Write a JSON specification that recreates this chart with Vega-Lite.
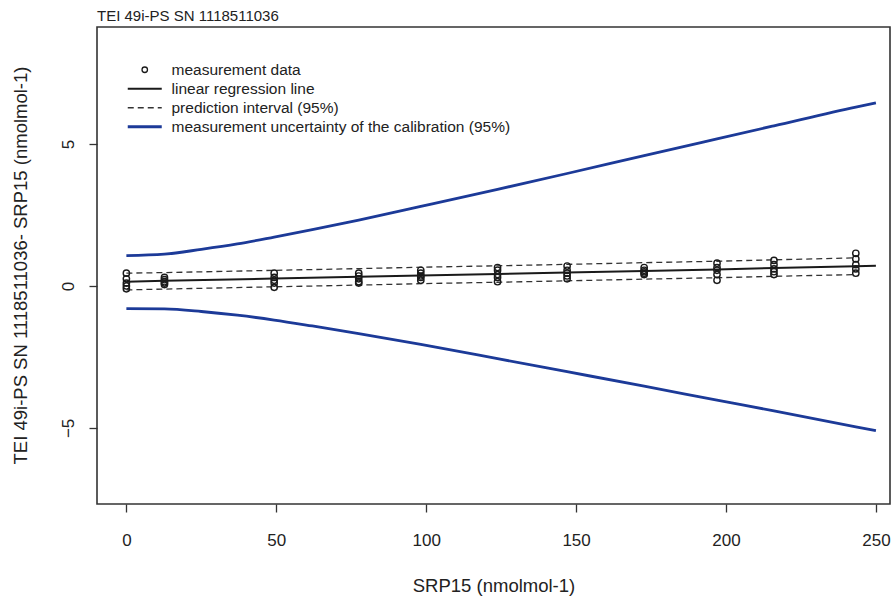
{
  "$schema": "https://vega.github.io/schema/vega-lite/v6.json",
  "width": 793,
  "height": 477,
  "autosize": {"type": "none"},
  "padding": {"left": 97, "top": 27, "right": 6, "bottom": 99},
  "background": "white",
  "title": {"text": "TEI 49i-PS SN 1118511036", "anchor": "start", "frame": "group", "orient": "top", "baseline": "middle", "offset": 0, "dy": 4, "fontSize": 15, "fontWeight": "normal", "font": "Liberation Sans", "color": "#222"},
  "datasets": {
    "d": [
      {"x": 0, "y": 0.45, "series": "measurement data", "side": "pt"},
      {"x": 0, "y": 0.25, "series": "measurement data", "side": "pt"},
      {"x": 0, "y": 0.1, "series": "measurement data", "side": "pt"},
      {"x": 0, "y": 0.0, "series": "measurement data", "side": "pt"},
      {"x": 0, "y": -0.1, "series": "measurement data", "side": "pt"},
      {"x": 12.7, "y": 0.3, "series": "measurement data", "side": "pt"},
      {"x": 12.7, "y": 0.22, "series": "measurement data", "side": "pt"},
      {"x": 12.7, "y": 0.15, "series": "measurement data", "side": "pt"},
      {"x": 12.7, "y": 0.1, "series": "measurement data", "side": "pt"},
      {"x": 12.7, "y": 0.05, "series": "measurement data", "side": "pt"},
      {"x": 49.3, "y": 0.45, "series": "measurement data", "side": "pt"},
      {"x": 49.3, "y": 0.3, "series": "measurement data", "side": "pt"},
      {"x": 49.3, "y": 0.2, "series": "measurement data", "side": "pt"},
      {"x": 49.3, "y": 0.1, "series": "measurement data", "side": "pt"},
      {"x": 49.3, "y": -0.05, "series": "measurement data", "side": "pt"},
      {"x": 77.5, "y": 0.45, "series": "measurement data", "side": "pt"},
      {"x": 77.5, "y": 0.35, "series": "measurement data", "side": "pt"},
      {"x": 77.5, "y": 0.25, "series": "measurement data", "side": "pt"},
      {"x": 77.5, "y": 0.15, "series": "measurement data", "side": "pt"},
      {"x": 77.5, "y": 0.1, "series": "measurement data", "side": "pt"},
      {"x": 98.2, "y": 0.55, "series": "measurement data", "side": "pt"},
      {"x": 98.2, "y": 0.45, "series": "measurement data", "side": "pt"},
      {"x": 98.2, "y": 0.35, "series": "measurement data", "side": "pt"},
      {"x": 98.2, "y": 0.3, "series": "measurement data", "side": "pt"},
      {"x": 98.2, "y": 0.2, "series": "measurement data", "side": "pt"},
      {"x": 123.8, "y": 0.65, "series": "measurement data", "side": "pt"},
      {"x": 123.8, "y": 0.55, "series": "measurement data", "side": "pt"},
      {"x": 123.8, "y": 0.4, "series": "measurement data", "side": "pt"},
      {"x": 123.8, "y": 0.3, "series": "measurement data", "side": "pt"},
      {"x": 123.8, "y": 0.15, "series": "measurement data", "side": "pt"},
      {"x": 147, "y": 0.7, "series": "measurement data", "side": "pt"},
      {"x": 147, "y": 0.55, "series": "measurement data", "side": "pt"},
      {"x": 147, "y": 0.45, "series": "measurement data", "side": "pt"},
      {"x": 147, "y": 0.35, "series": "measurement data", "side": "pt"},
      {"x": 147, "y": 0.25, "series": "measurement data", "side": "pt"},
      {"x": 172.7, "y": 0.65, "series": "measurement data", "side": "pt"},
      {"x": 172.7, "y": 0.55, "series": "measurement data", "side": "pt"},
      {"x": 172.7, "y": 0.5, "series": "measurement data", "side": "pt"},
      {"x": 172.7, "y": 0.45, "series": "measurement data", "side": "pt"},
      {"x": 172.7, "y": 0.4, "series": "measurement data", "side": "pt"},
      {"x": 197, "y": 0.8, "series": "measurement data", "side": "pt"},
      {"x": 197, "y": 0.65, "series": "measurement data", "side": "pt"},
      {"x": 197, "y": 0.55, "series": "measurement data", "side": "pt"},
      {"x": 197, "y": 0.4, "series": "measurement data", "side": "pt"},
      {"x": 197, "y": 0.2, "series": "measurement data", "side": "pt"},
      {"x": 216, "y": 0.9, "series": "measurement data", "side": "pt"},
      {"x": 216, "y": 0.75, "series": "measurement data", "side": "pt"},
      {"x": 216, "y": 0.6, "series": "measurement data", "side": "pt"},
      {"x": 216, "y": 0.5, "series": "measurement data", "side": "pt"},
      {"x": 216, "y": 0.4, "series": "measurement data", "side": "pt"},
      {"x": 243.3, "y": 1.15, "series": "measurement data", "side": "pt"},
      {"x": 243.3, "y": 0.95, "series": "measurement data", "side": "pt"},
      {"x": 243.3, "y": 0.75, "series": "measurement data", "side": "pt"},
      {"x": 243.3, "y": 0.6, "series": "measurement data", "side": "pt"},
      {"x": 243.3, "y": 0.45, "series": "measurement data", "side": "pt"},

      {"x": 0, "y": 0.15, "series": "linear regression line", "side": "mid"},
      {"x": 12.7, "y": 0.18, "series": "linear regression line", "side": "mid"},
      {"x": 49.3, "y": 0.26, "series": "linear regression line", "side": "mid"},
      {"x": 77.5, "y": 0.32, "series": "linear regression line", "side": "mid"},
      {"x": 98.2, "y": 0.37, "series": "linear regression line", "side": "mid"},
      {"x": 123.8, "y": 0.42, "series": "linear regression line", "side": "mid"},
      {"x": 147, "y": 0.47, "series": "linear regression line", "side": "mid"},
      {"x": 172.7, "y": 0.53, "series": "linear regression line", "side": "mid"},
      {"x": 197, "y": 0.58, "series": "linear regression line", "side": "mid"},
      {"x": 216, "y": 0.63, "series": "linear regression line", "side": "mid"},
      {"x": 243.3, "y": 0.69, "series": "linear regression line", "side": "mid"},
      {"x": 250, "y": 0.71, "series": "linear regression line", "side": "mid"},

      {"x": 0, "y": 0.45, "series": "prediction interval (95%)", "side": "upper"},
      {"x": 12.7, "y": 0.47, "series": "prediction interval (95%)", "side": "upper"},
      {"x": 49.3, "y": 0.55, "series": "prediction interval (95%)", "side": "upper"},
      {"x": 77.5, "y": 0.61, "series": "prediction interval (95%)", "side": "upper"},
      {"x": 98.2, "y": 0.66, "series": "prediction interval (95%)", "side": "upper"},
      {"x": 123.8, "y": 0.71, "series": "prediction interval (95%)", "side": "upper"},
      {"x": 147, "y": 0.76, "series": "prediction interval (95%)", "side": "upper"},
      {"x": 172.7, "y": 0.82, "series": "prediction interval (95%)", "side": "upper"},
      {"x": 197, "y": 0.87, "series": "prediction interval (95%)", "side": "upper"},
      {"x": 216, "y": 0.92, "series": "prediction interval (95%)", "side": "upper"},
      {"x": 243.3, "y": 0.99, "series": "prediction interval (95%)", "side": "upper"},
      {"x": 0, "y": -0.14, "series": "prediction interval (95%)", "side": "lower"},
      {"x": 12.7, "y": -0.11, "series": "prediction interval (95%)", "side": "lower"},
      {"x": 49.3, "y": -0.03, "series": "prediction interval (95%)", "side": "lower"},
      {"x": 77.5, "y": 0.03, "series": "prediction interval (95%)", "side": "lower"},
      {"x": 98.2, "y": 0.08, "series": "prediction interval (95%)", "side": "lower"},
      {"x": 123.8, "y": 0.13, "series": "prediction interval (95%)", "side": "lower"},
      {"x": 147, "y": 0.18, "series": "prediction interval (95%)", "side": "lower"},
      {"x": 172.7, "y": 0.24, "series": "prediction interval (95%)", "side": "lower"},
      {"x": 197, "y": 0.29, "series": "prediction interval (95%)", "side": "lower"},
      {"x": 216, "y": 0.34, "series": "prediction interval (95%)", "side": "lower"},
      {"x": 243.3, "y": 0.4, "series": "prediction interval (95%)", "side": "lower"},

      {"x": 0, "y": 1.07, "series": "measurement uncertainty of the calibration (95%)", "side": "upper"},
      {"x": 12.7, "y": 1.12, "series": "measurement uncertainty of the calibration (95%)", "side": "upper"},
      {"x": 25, "y": 1.29, "series": "measurement uncertainty of the calibration (95%)", "side": "upper"},
      {"x": 37, "y": 1.48, "series": "measurement uncertainty of the calibration (95%)", "side": "upper"},
      {"x": 49.3, "y": 1.72, "series": "measurement uncertainty of the calibration (95%)", "side": "upper"},
      {"x": 62, "y": 1.98, "series": "measurement uncertainty of the calibration (95%)", "side": "upper"},
      {"x": 77.5, "y": 2.32, "series": "measurement uncertainty of the calibration (95%)", "side": "upper"},
      {"x": 98.2, "y": 2.8, "series": "measurement uncertainty of the calibration (95%)", "side": "upper"},
      {"x": 123.8, "y": 3.4, "series": "measurement uncertainty of the calibration (95%)", "side": "upper"},
      {"x": 147, "y": 3.96, "series": "measurement uncertainty of the calibration (95%)", "side": "upper"},
      {"x": 172.7, "y": 4.59, "series": "measurement uncertainty of the calibration (95%)", "side": "upper"},
      {"x": 197, "y": 5.18, "series": "measurement uncertainty of the calibration (95%)", "side": "upper"},
      {"x": 216, "y": 5.64, "series": "measurement uncertainty of the calibration (95%)", "side": "upper"},
      {"x": 243.3, "y": 6.3, "series": "measurement uncertainty of the calibration (95%)", "side": "upper"},
      {"x": 250, "y": 6.45, "series": "measurement uncertainty of the calibration (95%)", "side": "upper"},
      {"x": 0, "y": -0.8, "series": "measurement uncertainty of the calibration (95%)", "side": "lower"},
      {"x": 12.7, "y": -0.81, "series": "measurement uncertainty of the calibration (95%)", "side": "lower"},
      {"x": 25, "y": -0.9, "series": "measurement uncertainty of the calibration (95%)", "side": "lower"},
      {"x": 37, "y": -1.03, "series": "measurement uncertainty of the calibration (95%)", "side": "lower"},
      {"x": 49.3, "y": -1.2, "series": "measurement uncertainty of the calibration (95%)", "side": "lower"},
      {"x": 62, "y": -1.41, "series": "measurement uncertainty of the calibration (95%)", "side": "lower"},
      {"x": 77.5, "y": -1.68, "series": "measurement uncertainty of the calibration (95%)", "side": "lower"},
      {"x": 98.2, "y": -2.06, "series": "measurement uncertainty of the calibration (95%)", "side": "lower"},
      {"x": 123.8, "y": -2.56, "series": "measurement uncertainty of the calibration (95%)", "side": "lower"},
      {"x": 147, "y": -3.02, "series": "measurement uncertainty of the calibration (95%)", "side": "lower"},
      {"x": 172.7, "y": -3.53, "series": "measurement uncertainty of the calibration (95%)", "side": "lower"},
      {"x": 197, "y": -4.02, "series": "measurement uncertainty of the calibration (95%)", "side": "lower"},
      {"x": 216, "y": -4.4, "series": "measurement uncertainty of the calibration (95%)", "side": "lower"},
      {"x": 243.3, "y": -4.96, "series": "measurement uncertainty of the calibration (95%)", "side": "lower"},
      {"x": 250, "y": -5.1, "series": "measurement uncertainty of the calibration (95%)", "side": "lower"}
    ]
  },
  "data": {"name": "d"},
  "encoding": {
    "x": {"field": "x", "type": "quantitative",
      "scale": {"domain": [-9.8, 254.7], "nice": false, "zero": false},
      "axis": {"values": [0, 50, 100, 150, 200, 250], "title": "SRP15 (nmolmol-1)", "titleY": 81, "titleBaseline": "middle"}},
    "y": {"field": "y", "type": "quantitative",
      "scale": {"domain": [-7.68, 9.12], "nice": false, "zero": false},
      "axis": {"values": [-5, 0, 5], "title": "TEI 49i-PS SN 1118511036- SRP15 (nmolmol-1)", "labelAngle": 270, "labelAlign": "center", "labelBaseline": "bottom", "titleX": -77, "titleY": 238, "titleAngle": 270, "titleBaseline": "middle", "titleAlign": "center"}},
    "color": {"field": "series", "type": "nominal",
      "scale": {"domain": ["measurement data", "linear regression line", "prediction interval (95%)", "measurement uncertainty of the calibration (95%)"],
                "range": ["#1a1a1a", "#1a1a1a", "#333333", "#1c3a98"]},
      "legend": {
        "title": null, "orient": "none", "legendX": 40, "legendY": 35,
        "symbolSize": 256, "rowPadding": 2, "labelOffset": 19, "labelLimit": 600,
        "labelFontSize": 15.5, "labelFont": "Liberation Sans", "labelColor": "#222",
        "encode": {"symbols": {"update": {
          "shape": {"signal": "datum.value === 'measurement data' ? 'circle' : 'stroke'"},
          "size": {"signal": "datum.value === 'measurement data' ? 30 : 1156"},
          "strokeDash": {"signal": "datum.value === 'prediction interval (95%)' ? [6, 4] : []"},
          "strokeWidth": {"signal": "datum.value === 'measurement uncertainty of the calibration (95%)' ? 2.8 : (datum.value === 'linear regression line' ? 2 : 1.3)"},
          "fill": {"value": "transparent"},
          "opacity": {"value": 1}
        }}}
      }}
  },
  "layer": [
    {"mark": {"type": "rule", "color": "#cfcfcf", "strokeWidth": 1}, "encoding": {"x": null, "color": null, "y": {"datum": 0}}, "data": {"values": [{"z": 0}]}},
    {"transform": [{"filter": "datum.series === 'measurement uncertainty of the calibration (95%)'"}],
     "mark": {"type": "line", "strokeWidth": 2.8, "interpolate": "monotone"}, "encoding": {"detail": {"field": "side"}}},
    {"transform": [{"filter": "datum.series === 'prediction interval (95%)'"}],
     "mark": {"type": "line", "strokeWidth": 1.3, "strokeDash": [6, 4]}, "encoding": {"detail": {"field": "side"}}},
    {"transform": [{"filter": "datum.series === 'linear regression line'"}],
     "mark": {"type": "line", "strokeWidth": 2}},
    {"transform": [{"filter": "datum.series === 'measurement data'"}],
     "mark": {"type": "point", "shape": "circle", "filled": false, "size": 40, "strokeWidth": 1.4, "opacity": 1}}
  ],
  "config": {
    "view": {"stroke": "#333", "strokeWidth": 1.6},
    "axis": {"grid": false, "domain": false, "tickColor": "#333", "tickWidth": 1.3, "tickSize": 8,
      "labelFont": "Liberation Sans", "labelFontSize": 17, "labelColor": "#222",
      "titleFont": "Liberation Sans", "titleFontSize": 18.5, "titleFontWeight": "normal", "titleColor": "#222"},
    "axisX": {"labelPadding": 20},
    "axisY": {"labelPadding": 12}
  }
}
